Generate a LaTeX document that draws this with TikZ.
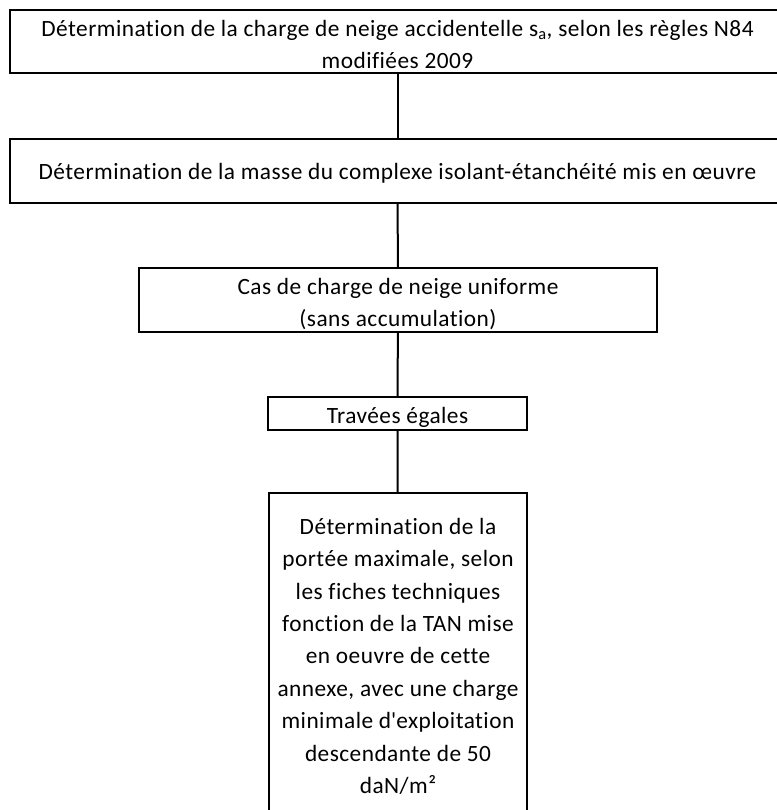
\documentclass[tikz,border=0pt]{standalone}
\usepackage{fontspec}
\setmainfont{Carlito}[LetterSpace = 2, Ligatures = NoCommon]

\begin{document}
\begin{tikzpicture}[x = 0.75pt, y = -0.75pt, line width = 1.5pt,
    boite/.style = {draw, rectangle, inner sep = 0pt},
    texte/.style = {align = center, inner sep = 0pt, anchor = north,
        font = \fontsize{17.5}{24.3}\selectfont}]
    %画布范围
    \useasboundingbox (0, 0) rectangle (777, 810);
    \clip (0, 0) rectangle (777, 810);
    %方框
    \node[boite, minimum width = 581.25pt, minimum height = 47.25pt] (charge) at (397.5, 41.5) {};
    \node[boite, minimum width = 581.25pt, minimum height = 48pt] (masse) at (397.5, 171) {};
    \node[boite, minimum width = 388.5pt, minimum height = 48pt] (uniforme) at (398, 300) {};
    \node[boite, minimum width = 194.25pt, minimum height = 24.75pt] (travees) at (397.5, 413.5) {};
    \node[boite, minimum width = 193.5pt, minimum height = 252.75pt] (portee) at (398, 661.5) {};
    %文字
    \node[texte] (t-charge) at (397.5, 12.6)
        {\strut Détermination de la charge de neige accidentelle s\textsubscript{a}, selon les règles N84\\ modifiées 2009};
    \node[texte] (t-masse) at (397.5, 155.6)
        {\strut Détermination de la masse du complexe isolant-étanchéité mis en œuvre};
    \node[texte] (t-uniforme) at (398, 270.6)
        {\strut Cas de charge de neige uniforme\\ (sans accumulation)};
    \node[texte] (t-travees) at (397.5, 400.3)
        {\strut Travées égales};
    \node[texte] (t-portee) at (398, 510.6)
        {\strut Détermination de la\\ portée maximale, selon\\ les fiches techniques\\ fonction de la TAN mise\\
         en oeuvre de cette\\ annexe, avec une charge\\ minimale d\textquotesingle exploitation\\ descendante de 50\\ daN/m²};
    %连线
    \draw (charge) -- (masse);
    \draw (masse) -- (uniforme);
    \draw (uniforme) -- (travees);
    \draw (travees) -- (portee);
\end{tikzpicture}
\end{document}
